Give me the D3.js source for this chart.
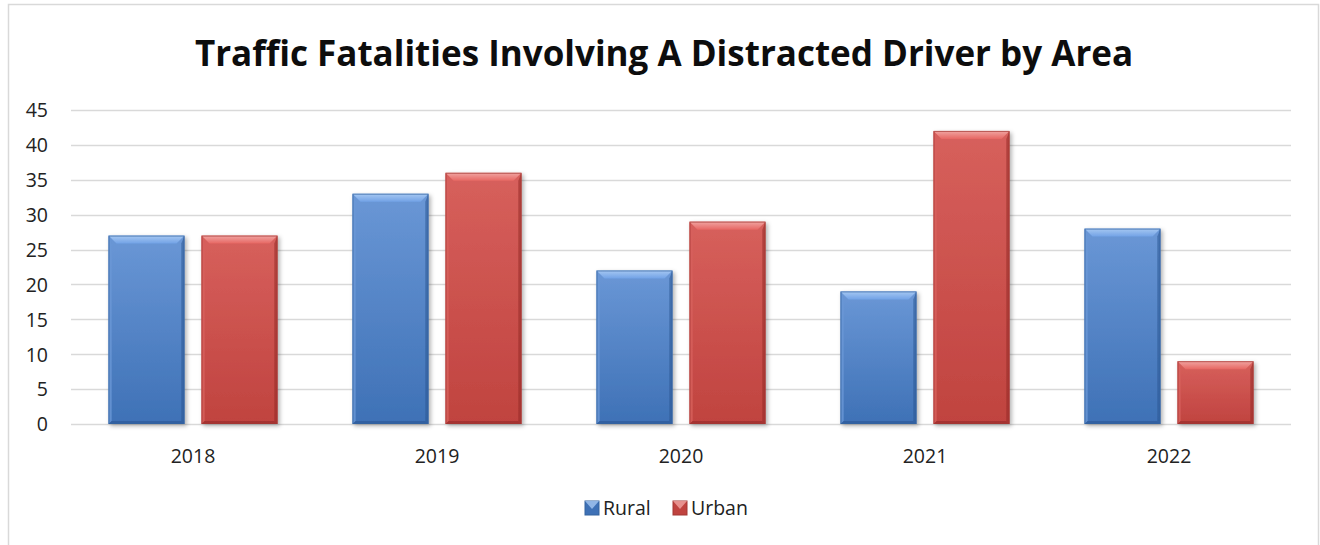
<!DOCTYPE html>
<html>
<head>
<meta charset="utf-8">
<script src="https://cdn.jsdelivr.net/npm/d3@7"></script>
<style>
  html, body { margin: 0; padding: 0; background: #fff; }
  svg { display: block; }
  text { font-family: "Open Sans", "Noto Sans", sans-serif; fill: #222; }
</style>
</head>
<body>
<svg id="chart" width="1320" height="545"></svg>
<script>
// Distracted-driver traffic fatalities, by year and area
const years = ["2018", "2019", "2020", "2021", "2022"];
const seriesNames = ["Rural", "Urban"];
const rural = [27, 33, 22, 19, 28];
const urban = [27, 36, 29, 42, 9];
const yTicks = [0, 5, 10, 15, 20, 25, 30, 35, 40, 45];
const title = "Traffic Fatalities Involving A Distracted Driver by Area";

const W = 1320, H = 545;
const margin = { left: 71, right: 29, top: 110, bottom: 121 };
const svg = d3.select("#chart");
const defs = svg.append("defs");

const palette = {
  Rural: { top: "#6a97d6", bottom: "#3e71b6", light: "#a6c8f2", dark: "#2a5592", edge: "#35649f" },
  Urban: { top: "#d7605c", bottom: "#c0433f", light: "#f0a5a2", dark: "#932a27", edge: "#a33835" }
};

// gradients for body shading and bevel faces
seriesNames.forEach(s => {
  const c = palette[s];
  const g = defs.append("linearGradient").attr("id", "body-" + s)
    .attr("x1", 0).attr("y1", 0).attr("x2", 0).attr("y2", 1);
  g.append("stop").attr("offset", "0%").attr("stop-color", c.top);
  g.append("stop").attr("offset", "100%").attr("stop-color", c.bottom);
  const t = defs.append("linearGradient").attr("id", "top-" + s)
    .attr("x1", 0).attr("y1", 0).attr("x2", 0).attr("y2", 1);
  t.append("stop").attr("offset", "0%").attr("stop-color", c.light);
  t.append("stop").attr("offset", "100%").attr("stop-color", d3.color(c.top).brighter(0.2));
});
const shadow = defs.append("filter").attr("id", "shadow")
  .attr("x", "-20%").attr("y", "-20%").attr("width", "140%").attr("height", "140%");
shadow.append("feDropShadow").attr("dx", 2).attr("dy", 2).attr("stdDeviation", 2)
  .attr("flood-color", "#000").attr("flood-opacity", 0.3);

// chart frame
svg.append("rect").attr("x", 8.5).attr("y", 4.5).attr("width", 1310).attr("height", 560)
  .attr("fill", "#fff").attr("stroke", "#d9d9d9").attr("stroke-width", 1.5);

svg.append("text").attr("x", 664).attr("y", 66).attr("text-anchor", "middle")
  .style("font-size", "35px").style("font-weight", "700").style("fill", "#0d0d0d")
  .text(title);

const x0 = d3.scaleBand().domain(years).range([margin.left, W - margin.right]).paddingInner(0).paddingOuter(0);
const x1 = d3.scaleBand().domain(seriesNames).range([37.5, x0.bandwidth() - 37.5]).paddingInner(0.183);
const y = d3.scaleLinear().domain([0, 45]).range([H - margin.bottom, margin.top]);

// horizontal gridlines
svg.append("g").selectAll("line").data(yTicks).join("line")
  .attr("x1", margin.left).attr("x2", W - margin.right)
  .attr("y1", d => Math.round(y(d)) + 0.5).attr("y2", d => Math.round(y(d)) + 0.5)
  .attr("stroke", "#d9d9d9").attr("stroke-width", 1.5);

// y axis labels
const yAxis = d3.axisLeft(y).tickValues(yTicks).tickSize(0).tickPadding(0);
const gy = svg.append("g").attr("transform", `translate(${margin.left - 23},0)`).call(yAxis);
gy.select(".domain").remove();
gy.selectAll("text").style("font-size", "19.5px").style("font-family", "'Open Sans', sans-serif")
  .attr("fill", "#222").attr("text-anchor", "end").attr("dy", "0.35em");

// x axis labels
const xAxis = d3.axisBottom(x0).tickSize(0).tickPadding(0);
const gx = svg.append("g").attr("transform", `translate(0,${y(0) + 32})`).call(xAxis);
gx.select(".domain").remove();
gx.selectAll("text").style("font-size", "19.5px").style("font-family", "'Open Sans', sans-serif")
  .attr("fill", "#222").attr("dy", "0.35em");

// bevelled bars
function drawBar(g, s, bx, bw, v) {
  const c = palette[s];
  const top = y(v), bot = y(0), h = bot - top;
  const b = Math.min(8, h / 2);
  const bar = g.append("g").attr("filter", "url(#shadow)");
  bar.append("rect").attr("x", bx).attr("y", top).attr("width", bw).attr("height", h)
    .attr("fill", `url(#body-${s})`);
  // top bevel
  bar.append("path").attr("d", `M${bx},${top} L${bx + bw},${top} L${bx + bw - b},${top + b} L${bx + b},${top + b} Z`)
    .attr("fill", `url(#top-${s})`);
  // left bevel
  bar.append("path").attr("d", `M${bx},${top} L${bx + b * 0.4},${top + b} L${bx + b * 0.4},${bot - 3} L${bx},${bot} Z`)
    .attr("fill", c.top).attr("opacity", 0.8);
  // right bevel
  bar.append("path").attr("d", `M${bx + bw},${top} L${bx + bw - b * 0.4},${top + b} L${bx + bw - b * 0.4},${bot - 3} L${bx + bw},${bot} Z`)
    .attr("fill", c.dark).attr("opacity", 0.55);
  // bottom bevel
  bar.append("path").attr("d", `M${bx},${bot} L${bx + b * 0.4},${bot - 3} L${bx + bw - b * 0.4},${bot - 3} L${bx + bw},${bot} Z`)
    .attr("fill", c.dark).attr("opacity", 0.6);
  bar.append("rect").attr("x", bx + 0.5).attr("y", top + 0.5).attr("width", bw - 1).attr("height", h - 1)
    .attr("fill", "none").attr("stroke", c.edge).attr("stroke-width", 1).attr("opacity", 0.7);
}

const groups = svg.append("g").selectAll("g").data(years).join("g")
  .attr("transform", d => `translate(${x0(d)},0)`);
groups.each(function (yr, i) {
  const g = d3.select(this);
  drawBar(g, "Rural", x1("Rural"), x1.bandwidth(), rural[i]);
  drawBar(g, "Urban", x1("Urban"), x1.bandwidth(), urban[i]);
});

// legend
const legend = svg.append("g").attr("transform", "translate(585,508)");
const legendX = { Rural: 0, Urban: 88 };
seriesNames.forEach(s => {
  const c = palette[s];
  const lg = legend.append("g").attr("transform", `translate(${legendX[s]},0)`);
  lg.append("rect").attr("x", 0).attr("y", -7).attr("width", 14).attr("height", 14)
    .attr("fill", c.bottom).attr("stroke", c.edge);
  lg.append("path").attr("d", "M0,-7 L14,-7 L7,1 Z").attr("fill", c.light).attr("opacity", 0.8);
  lg.append("text").attr("x", 18).attr("y", 0).attr("dy", "0.35em")
    .style("font-size", "19.5px").text(s);
});
</script>
</body>
</html>
